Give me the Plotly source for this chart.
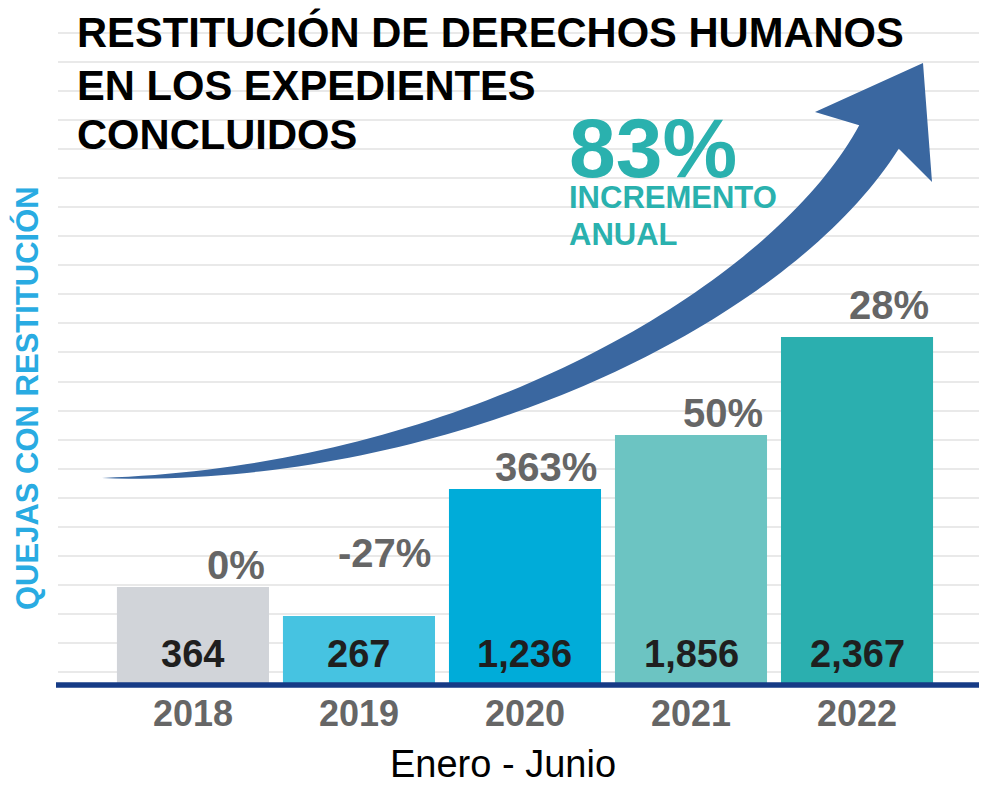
import numpy as np
import plotly.graph_objects as go

# ---------------- data ----------------
years = ["2018", "2019", "2020", "2021", "2022"]
quejas = [364, 267, 1236, 1856, 2367]                 # printed values
variacion = ["0%", "-27%", "363%", "50%", "28%"]      # annual change labels
alturas = [98, 69, 196, 250, 348]                     # bar heights as drawn (not to scale)
incremento = "83%"

bar_colors = ["#d1d4d9", "#46c3e1", "#00acd9", "#6cc4c2", "#2bafaf"]

# ---------------- geometry helpers (layout only) ----------------
OFF = 8                      # page body margin
W, H = 987 - OFF, 785 - OFF
L, T = 58 - OFF, 25 - OFF
BASE = 685 - OFF
R, B = 0, H - BASE
PW, PH = W - L - R, BASE - T


def paper(x, y):
    """screen pixel -> paper coords"""
    fx, fy = x - OFF, y - OFF
    return (fx - L) / PW, (BASE - fy) / PH


# arrow: centreline Bezier + growing width
P0 = np.array([102.0, 478.0])
P3 = np.array([879.0, 137.0])
d_end = np.array([0.51, -0.86]); d_end /= np.linalg.norm(d_end)
P1 = P0 + np.array([350.0, 0.0])
P2 = P3 - 200.0 * d_end
ts = np.linspace(0, 1, 80)
pts = ((1 - ts) ** 3)[:, None] * P0 + (3 * (1 - ts) ** 2 * ts)[:, None] * P1 \
    + (3 * (1 - ts) * ts ** 2)[:, None] * P2 + (ts ** 3)[:, None] * P3
der = (3 * (1 - ts) ** 2)[:, None] * (P1 - P0) + (6 * (1 - ts) * ts)[:, None] * (P2 - P1) \
    + (3 * ts ** 2)[:, None] * (P3 - P2)
tan = der / np.linalg.norm(der, axis=1)[:, None]
nrm = np.stack([tan[:, 1], -tan[:, 0]], axis=1)       # points up-left
wid = 46.0 * ts ** 0.85
upper = pts + nrm * (wid / 2)[:, None]
lower = pts - nrm * (wid / 2)[:, None]
head = [(815, 112), (923, 63), (932, 182)]
outline = list(upper) + head + list(lower[::-1])
path = "M " + " L ".join("%.5f,%.5f" % paper(x, y) for x, y in outline) + " Z"

fig = go.Figure()
fig.add_trace(go.Bar(
    x=list(range(len(years))), y=alturas, marker=dict(color=bar_colors, line=dict(width=0)),
    width=0.916, hoverinfo="skip", showlegend=False,
))

FONT = "Liberation Sans, Arial, sans-serif"
ann = []
_, yv = paper(0, 654)
_, yt = paper(0, 713)
for i, (yr, v) in enumerate(zip(years, quejas)):
    ann.append(dict(x=i, y=yv, xref="x", yref="paper", text=f"{v:,}", showarrow=False,
                    yanchor="middle",
                    font=dict(family=FONT, size=38, color="#1f1f1f", weight="bold")))
    ann.append(dict(x=i, y=yt, xref="x", yref="paper", text=yr, showarrow=False,
                    yanchor="middle",
                    font=dict(family=FONT, size=36, color="#666666", weight="bold")))
# percentage labels (centre offset above bar top, px)
pct_up = [22, 63, 22, 22, 32]
for i, (p, h) in enumerate(zip(variacion, alturas)):
    ann.append(dict(x=i + 0.458, y=h, xref="x", yref="y", text=p, showarrow=False,
                    xanchor="right", yanchor="middle", xshift=-2, yshift=pct_up[i],
                    font=dict(family=FONT, size=40, color="#666666", weight="bold")))

for line, yc in zip(["RESTITUCIÓN DE DERECHOS HUMANOS", "EN LOS EXPEDIENTES", "CONCLUIDOS"],
                    [32, 85, 135]):
    x0, y0 = paper(75, yc)
    ann.append(dict(x=x0, y=y0, xref="paper", yref="paper", xanchor="left", yanchor="middle",
                    showarrow=False, text=line,
                    font=dict(family=FONT, size=41.7, color="#000000", weight="bold")))
x0, y0 = paper(567, 148)
ann.append(dict(x=x0, y=y0, xref="paper", yref="paper", xanchor="left", yanchor="middle",
                showarrow=False, text=incremento,
                font=dict(family=FONT, size=84, color="#2ab1ae", weight="bold")))
for line, yc in zip(["INCREMENTO", "ANUAL"], [198, 234]):
    x0, y0 = paper(567, yc)
    ann.append(dict(x=x0, y=y0, xref="paper", yref="paper", xanchor="left", yanchor="middle",
                    showarrow=False, text=line,
                    font=dict(family=FONT, size=31, color="#2ab1ae", weight="bold")))
x0, y0 = paper(27, 398)
ann.append(dict(x=x0, y=y0, xref="paper", yref="paper", xanchor="center", yanchor="middle",
                showarrow=False, textangle=-90, text="QUEJAS CON RESTITUCIÓN",
                font=dict(family=FONT, size=31, color="#29abe2", weight="bold")))
x0, y0 = paper(503, 764)
ann.append(dict(x=x0, y=y0, xref="paper", yref="paper", xanchor="center", yanchor="middle",
                showarrow=False, text="Enero - Junio",
                font=dict(family=FONT, size=38, color="#000000")))

xl, yl = paper(56, 685)
fig.update_layout(
    width=W, height=H, margin=dict(l=L, r=R, t=T, b=B),
    paper_bgcolor="white", plot_bgcolor="white",
    annotations=ann,
    shapes=[
        dict(type="path", xref="paper", yref="paper", path=path,
             fillcolor="#3a67a0", line=dict(width=0), layer="above"),
        dict(type="line", xref="paper", yref="paper", x0=xl, x1=1, y0=yl, y1=yl,
             line=dict(color="#163b86", width=5.5), layer="above"),
    ],
    xaxis=dict(range=[-0.813, 4.783], showline=False,
               showticklabels=False, ticks="", showgrid=False, zeroline=False,
               fixedrange=True),
    yaxis=dict(range=[0, PH], tick0=13, dtick=29.05, showticklabels=False,
               showgrid=True, gridcolor="#e9e9e9", gridwidth=1.5, zeroline=False,
               fixedrange=True),
)

fig.write_html("out.html")
